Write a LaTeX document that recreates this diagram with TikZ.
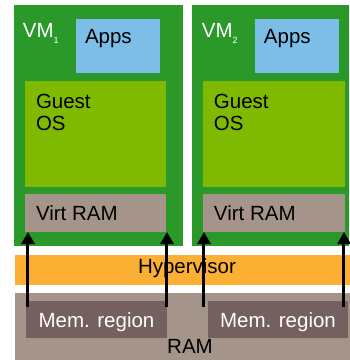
\documentclass[tikz,border=0pt]{standalone}
\usepackage{fontspec}
\setmainfont{Liberation Sans}
\usetikzlibrary{arrows.meta}
\definecolor{vmgreen}{RGB}{42,153,42}
\definecolor{appsblue}{RGB}{125,190,232}
\definecolor{osgreen}{RGB}{127,186,0}
\definecolor{ramgray}{RGB}{164,148,137}
\definecolor{hyporange}{RGB}{251,176,52}
\definecolor{memgray}{RGB}{117,96,96}
\begin{document}
\begin{tikzpicture}[x=1pt,y=-1pt,
  box/.style={fill=#1, draw=none, inner sep=0pt, outer sep=0pt, anchor=north west},
  lbl/.style={font=\fontsize{20.5}{22}\selectfont, inner sep=0pt, outer sep=0pt},
  arr/.style={line width=3pt, -{Triangle[width=13pt,length=12pt]}}]
\useasboundingbox (0,0) rectangle (350,360);
% VMs
\node[box=vmgreen, minimum width=169pt, minimum height=241pt] (vm1) at (14,5) {};
\node[box=vmgreen, minimum width=157pt, minimum height=241pt] (vm2) at (192,5) {};
\node[box=appsblue, minimum width=84pt, minimum height=54pt] (apps1) at (76,19) {};
\node[box=appsblue, minimum width=84pt, minimum height=54pt] (apps2) at (255,19) {};
\node[box=osgreen, minimum width=141pt, minimum height=106pt] (os1) at (25,81) {};
\node[box=osgreen, minimum width=142pt, minimum height=106pt] (os2) at (203,81) {};
\node[box=ramgray, minimum width=141pt, minimum height=38pt] (virt1) at (25,194) {};
\node[box=ramgray, minimum width=142pt, minimum height=38pt] (virt2) at (203,194) {};
% Hypervisor and RAM
\node[box=hyporange, minimum width=335pt, minimum height=30pt] (hyp) at (15,255) {};
\node[box=ramgray, minimum width=335pt, minimum height=67pt] (ram) at (15,293) {};
\node[box=memgray, minimum width=141pt, minimum height=37pt] (mem1) at (26,301) {};
\node[box=memgray, minimum width=140pt, minimum height=37pt] (mem2) at (208,301) {};
% Labels
\node[lbl, text=white, anchor=base west] (vm1t) at (23,37) {VM\raisebox{-6pt}{\fontsize{9}{10}\selectfont 1}};
\node[lbl, text=white, anchor=base west] (vm2t) at (202,37) {VM\raisebox{-6pt}{\fontsize{9}{10}\selectfont 2}};
\node[lbl, anchor=base west] (apps1t) at (85,43) {Apps};
\node[lbl, anchor=base west] (apps2t) at (264,43) {Apps};
\node[lbl, anchor=north west, align=left] (os1t) at (36,94) {Guest\\OS};
\node[lbl, anchor=north west, align=left] (os2t) at (214,94) {Guest\\OS};
\node[lbl, anchor=base west] (virt1t) at (36,220) {Virt RAM};
\node[lbl, anchor=base west] (virt2t) at (214,220) {Virt RAM};
\node[lbl, anchor=base] (hypt) at (187,273) {Hypervisor};
\node[lbl, anchor=base] (ramt) at (190,353) {RAM};
\node[lbl, text=white, anchor=base] (mem1t) at (96.5,327) {Mem. region};
\node[lbl, text=white, anchor=base] (mem2t) at (278,327) {Mem. region};
% Arrows
\coordinate (a1) at (28,307);
\coordinate (a2) at (167,307);
\coordinate (a3) at (204,307);
\coordinate (a4) at (344,307);
\draw[arr] (a1) -- (a1 |- virt1.south);
\draw[arr] (a2) -- (a2 |- virt1.south);
\draw[arr] (a3) -- (a3 |- virt2.south);
\draw[arr] (a4) -- (a4 |- virt2.south);
\end{tikzpicture}
\end{document}
